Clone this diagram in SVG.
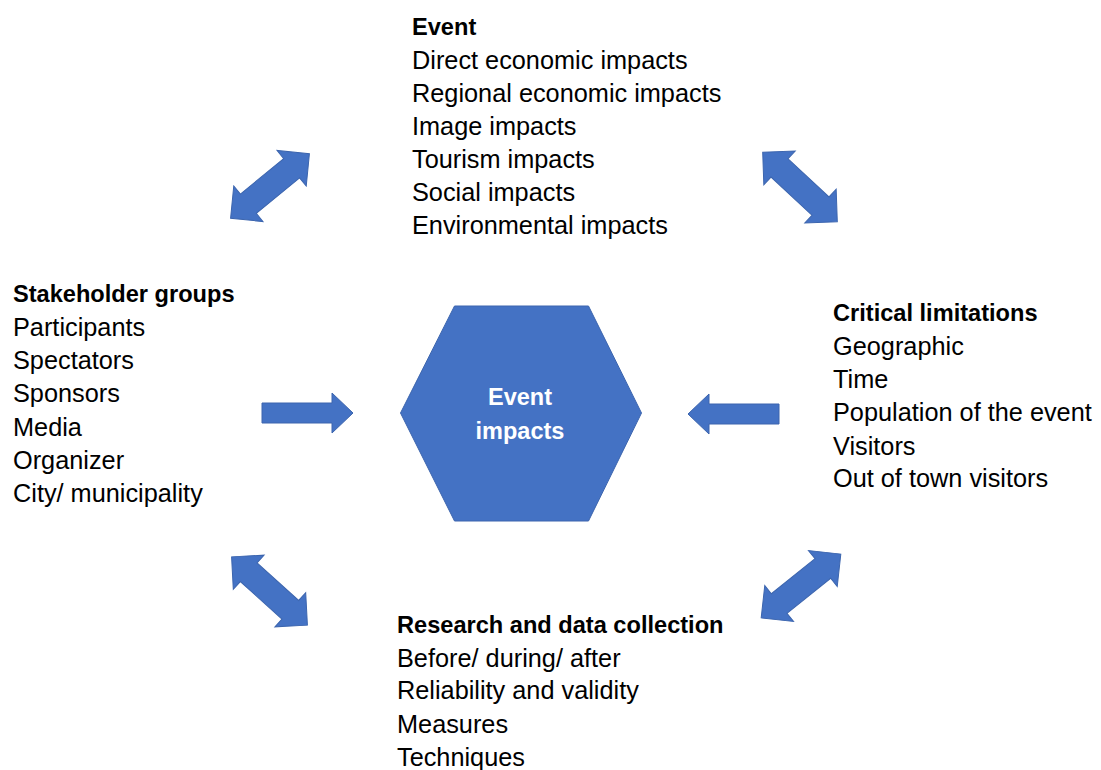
<svg xmlns="http://www.w3.org/2000/svg" width="1101" height="770" viewBox="0 0 1101 770">
<style>
.t{font-family:"Liberation Sans",Arial,sans-serif;font-size:25.3px;fill:#000}
.b{font-family:"Liberation Sans",Arial,sans-serif;font-size:23.6px;font-weight:bold;fill:#000}
.w{font-family:"Liberation Sans",Arial,sans-serif;font-size:23.5px;font-weight:bold;fill:#fff;text-anchor:middle}
.shape{fill:#4472C4;stroke:#3c65ae;stroke-width:1}
</style>
<defs>
<polygon id="dbl" points="-51,0 -28,-23 -28,-12.5 28,-12.5 28,-23 51,0 28,23 28,12.5 -28,12.5 -28,23"/>
<polygon id="one" points="0,-10 70,-10 70,-20 91,0 70,20 70,10 0,10"/>
</defs>
<rect width="1101" height="770" fill="#fff"/>
<g id="connectors" class="shape">
<use href="#dbl" transform="translate(270,186) rotate(-39.4)"/>
<use href="#dbl" transform="translate(800,187) rotate(43)"/>
<use href="#dbl" transform="translate(269.5,591) rotate(42)"/>
<use href="#dbl" transform="translate(801,586) rotate(-38.7)"/>
<use href="#one" transform="translate(262,413)"/>
<use href="#one" transform="translate(779,414) rotate(180)"/>
</g>
<g id="center">
<polygon class="shape" points="400.5,413 454.5,306 588.5,306 641.5,413 588.5,521 454.5,521"/>
<text class="w" x="520" y="405">Event</text>
<text class="w" x="520" y="439">impacts</text>
</g>
<g id="event">
<text class="b" x="412" y="35">Event</text>
<text class="t" x="412" y="69">Direct economic impacts</text>
<text class="t" x="412" y="102">Regional economic impacts</text>
<text class="t" x="412" y="135">Image impacts</text>
<text class="t" x="412" y="168">Tourism impacts</text>
<text class="t" x="412" y="201">Social impacts</text>
<text class="t" x="412" y="234">Environmental impacts</text>
</g>
<g id="stakeholders">
<text class="b" x="13" y="302">Stakeholder groups</text>
<text class="t" x="13" y="336">Participants</text>
<text class="t" x="13" y="369">Spectators</text>
<text class="t" x="13" y="402">Sponsors</text>
<text class="t" x="13" y="436">Media</text>
<text class="t" x="13" y="469">Organizer</text>
<text class="t" x="13" y="502">City/ municipality</text>
</g>
<g id="limitations">
<text class="b" x="833" y="321">Critical limitations</text>
<text class="t" x="833" y="355">Geographic</text>
<text class="t" x="833" y="388">Time</text>
<text class="t" x="833" y="421">Population of the event</text>
<text class="t" x="833" y="455">Visitors</text>
<text class="t" x="833" y="487">Out of town visitors</text>
</g>
<g id="research">
<text class="b" x="397" y="633">Research and data collection</text>
<text class="t" x="397" y="667">Before/ during/ after</text>
<text class="t" x="397" y="699">Reliability and validity</text>
<text class="t" x="397" y="733">Measures</text>
<text class="t" x="397" y="766">Techniques</text>
</g>
</svg>
